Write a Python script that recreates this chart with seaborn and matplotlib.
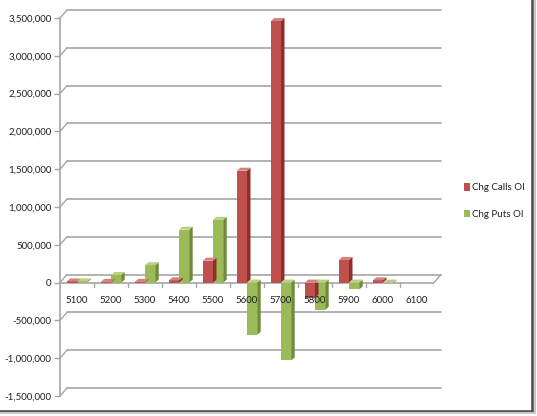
import matplotlib
matplotlib.use("Agg")
import matplotlib.pyplot as plt
import matplotlib.transforms as mtransforms
from matplotlib.patches import Polygon, Patch
from matplotlib.ticker import FuncFormatter, FixedLocator
import seaborn as sns
import pandas as pd

strikes = ["5100", "5200", "5300", "5400", "5500", "5600", "5700", "5800", "5900", "6000", "6100"]
calls_oi = [15000, 10000, 10000, 30000, 290000, 1480000, 3460000, -200000, 300000, 30000, 0]
puts_oi = [15000, 100000, 230000, 700000, 830000, -690000, -1030000, -360000, -90000, -10000, 0]
series_names = ["Chg Calls OI", "Chg Puts OI"]
yticks = [-1500000, -1000000, -500000, 0, 500000, 1000000, 1500000, 2000000, 2500000, 3000000, 3500000]

front = {"Chg Calls OI": "#C0504D", "Chg Puts OI": "#9BBB59"}
side = {"Chg Calls OI": "#8C302D", "Chg Puts OI": "#6F8A3A"}
top = {"Chg Calls OI": "#D4817F", "Chg Puts OI": "#B8D07F"}

df = pd.DataFrame({
    "Strike": strikes * 2,
    "Value": calls_oi + puts_oi,
    "Series": [series_names[0]] * len(strikes) + [series_names[1]] * len(strikes),
})

sns.set_style("white")
plt.rcParams["font.family"] = ["Lato", "DejaVu Sans"]
FS = 7

fig = plt.figure(figsize=(5.37, 4.16), dpi=100)
ax = fig.add_axes([60 / 537, 1 - 396 / 416, (434 - 60) / 537, (396 - 18) / 416])

sns.barplot(data=df, x="Strike", y="Value", hue="Series", order=strikes,
            hue_order=series_names, palette=front, width=0.6, saturation=1,
            edgecolor="none", linewidth=0, legend=False, ax=ax, zorder=3)

ax.set_xlim(-0.5, len(strikes) - 0.5)
ax.set_ylim(yticks[0], yticks[-1])

# depth for the 3D look, in data units
px_x = (len(strikes)) / 374.0
px_y = (yticks[-1] - yticks[0]) / 378.0
dx, dy = 3.5 * px_x, 3 * px_y

bars = list(ax.patches)
n = len(strikes)
for i, p in enumerate(bars):
    s = series_names[0] if i < n else series_names[1]
    x0, w = p.get_x(), p.get_width()
    y0, h = p.get_y(), p.get_height()
    if h == 0:
        continue
    lo, hi = min(y0, y0 + h), max(y0, y0 + h)
    x1 = x0 + w
    ax.add_patch(Polygon([(x1, lo), (x1 + dx, lo + dy), (x1 + dx, hi + dy), (x1, hi)],
                         closed=True, facecolor=side[s], edgecolor="none", zorder=3))
    ax.add_patch(Polygon([(x0, hi), (x0 + dx, hi + dy), (x1 + dx, hi + dy), (x1, hi)],
                         closed=True, facecolor=top[s], edgecolor="none", zorder=3))

# back-wall gridlines, offset to suggest depth
off = mtransforms.ScaledTranslation(7 / 100, 8 / 100, fig.dpi_scale_trans)
for v in yticks:
    ax.plot([0, 1.0], [v, v], transform=ax.get_yaxis_transform() + off,
            color="#A6A6A6", lw=1.2, zorder=1, clip_on=False)
    ax.annotate("", xy=(0, v), xycoords=ax.get_yaxis_transform(),
                xytext=(7 * 0.72, 8 * 0.72), textcoords="offset points",
                arrowprops=dict(arrowstyle="-", color="#A6A6A6", lw=1.0,
                                shrinkA=0, shrinkB=0), zorder=1)

# front floor line at zero with end slant
ax.axhline(0, color="#A6A6A6", lw=1.2, zorder=2)
ax.annotate("", xy=(1, 0), xycoords=ax.get_yaxis_transform(),
            xytext=(7 * 0.72, 8 * 0.72), textcoords="offset points",
            arrowprops=dict(arrowstyle="-", color="#A6A6A6", lw=1.0,
                            shrinkA=0, shrinkB=0), zorder=1)
for k in range(1, len(strikes) + 1):
    ax.plot([k - 0.5, k - 0.5], [0, -4 * px_y], color="#A6A6A6", lw=1.0, zorder=2)

for sp in ["top", "right", "bottom"]:
    ax.spines[sp].set_visible(False)
ax.spines["left"].set_color("#A6A6A6")
ax.spines["left"].set_linewidth(1.2)

ax.yaxis.set_major_locator(FixedLocator(yticks))
ax.yaxis.set_major_formatter(FuncFormatter(lambda v, _: f"{int(v):,}"))
ax.tick_params(axis="y", length=4, width=1, color="#A6A6A6", labelsize=FS,
               labelcolor="#1F1F1F", pad=2, left=True)
ax.tick_params(axis="x", length=0, labelsize=FS, labelcolor="#1F1F1F")
ax.set_xticks(range(len(strikes)))
ax.set_xticklabels([])
for k, lab in enumerate(strikes):
    ax.text(k, -240000, lab, ha="center", va="center", fontsize=FS, color="#1F1F1F")
ax.set_xlabel("")
ax.set_ylabel("")
ax.grid(False)

handles = [Patch(facecolor=front[s], edgecolor="none", label=s) for s in series_names]
fig.legend(handles=handles, loc="center left", bbox_to_anchor=(455 / 537, 1 - 201 / 416),
           frameon=False, fontsize=FS, handlelength=0.6, handleheight=0.8,
           handletextpad=0.3, labelspacing=1.8, labelcolor="#1F1F1F")

# outer frame with shadow
fig.add_artist(plt.Line2D([0, 532 / 537], [1 - 410.5 / 416] * 2, transform=fig.transFigure,
                          color="#4A4A4A", lw=1.8))
fig.add_artist(plt.Line2D([532 / 537] * 2, [1 - 410.5 / 416, 1], transform=fig.transFigure,
                          color="#4A4A4A", lw=1.8))
fig.add_artist(plt.Line2D([534.5 / 537] * 2, [1 - 413 / 416, 1], transform=fig.transFigure,
                          color="#C8C8C8", lw=1.5))
fig.add_artist(plt.Line2D([0, 534.5 / 537], [1 - 413 / 416] * 2, transform=fig.transFigure,
                          color="#C8C8C8", lw=1.5))

fig.savefig("out.png", dpi=100)
